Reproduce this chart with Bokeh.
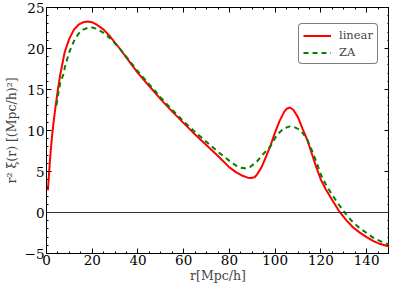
from bokeh.plotting import figure
from bokeh.models import Span, Legend, LegendItem, LinearAxis, Range1d, FixedTicker
from bokeh.embed import file_html
from bokeh.resources import INLINE

# ---- data ----
r_linear = [0.6, 1, 1.5, 2, 2.5, 3, 4, 5, 6, 8, 10, 12, 14, 16, 18, 20, 22, 25, 28,
            32, 36, 40, 45, 50, 55, 60, 65, 70, 75, 80, 83, 86, 88, 89.3, 91, 92, 94,
            96, 98, 100, 102, 104, 105, 106.5, 108, 110, 112, 114, 116, 118, 120, 122,
            125, 128, 131, 134, 137, 140, 143, 146, 150]
xi_linear = [2.7, 4.3, 6.3, 8.0, 9.5, 10.8, 13.0, 15.0, 16.8, 19.6, 21.2, 22.3, 22.9,
             23.2, 23.3, 23.2, 22.9, 22.3, 21.4, 20.0, 18.5, 17.0, 15.4, 13.8, 12.3,
             10.9, 9.5, 8.2, 6.9, 5.5, 4.9, 4.45, 4.25, 4.2, 4.3, 4.6, 5.5, 6.8, 8.2,
             9.8, 11.2, 12.3, 12.65, 12.8, 12.5, 11.6, 10.2, 8.9, 7.2, 5.5, 4.0, 2.9,
             1.5, 0.15, -0.9, -1.8, -2.45, -3.0, -3.5, -3.85, -4.15]

r_za = [4.4, 5, 6, 7.6, 8, 10, 12, 14, 16, 18.3, 20, 22, 25, 28, 32, 36, 40, 45, 50,
        55, 60, 65, 70, 75, 80, 83, 85, 87, 89, 92, 94, 96, 98, 100, 102, 104, 106.5,
        108, 110, 112, 114, 116, 118, 120, 122, 125, 128, 131, 134, 137, 140, 143, 146,
        150]
xi_za = [13.1, 14.3, 15.8, 17.0, 17.7, 19.6, 20.9, 21.8, 22.3, 22.55, 22.55, 22.4,
         21.9, 21.2, 20.0, 18.6, 17.2, 15.6, 14.0, 12.5, 11.1, 9.8, 8.6, 7.4, 6.3, 5.7,
         5.45, 5.4, 5.55, 6.2, 6.9, 7.5, 8.1, 9.1, 9.8, 10.3, 10.5, 10.45, 10.2, 9.7,
         8.9, 7.6, 6.2, 4.6, 3.5, 2.1, 0.9, -0.2, -1.2, -1.9, -2.5, -3.1, -3.5, -3.95]

x_ticks = [0, 20, 40, 60, 80, 100, 120, 140]
y_ticks = [-5, 0, 5, 10, 15, 20, 25]

FONT = "DejaVu Serif"

p = figure(width=389, height=285, output_backend="svg", toolbar_location=None,
           x_range=Range1d(0, 150), y_range=Range1d(-5, 25),
           min_border_left=39, min_border_right=0, min_border_top=7, min_border_bottom=0)
p.background_fill_color = "white"
p.border_fill_color = "white"
p.outline_line_color = "black"
p.outline_line_width = 1
p.xgrid.visible = False
p.ygrid.visible = False

p.add_layout(Span(location=0, dimension="width", line_color="#333333", line_width=1))

l1 = p.line(r_linear, xi_linear, line_color="red", line_width=2)
l2 = p.line(r_za, xi_za, line_color="green", line_width=2, line_dash="5 4")

legend = Legend(items=[LegendItem(label="linear", renderers=[l1]),
                       LegendItem(label="ZA", renderers=[l2])],
                location=(252, 189))
legend.label_text_font = FONT
legend.label_text_font_size = "11.5px"
legend.glyph_width = 28
legend.glyph_height = 13
legend.label_height = 13
legend.label_standoff = 8
legend.spacing = 3
legend.padding = 4
legend.margin = 0
legend.border_line_color = "black"
legend.border_line_width = 1
legend.background_fill_alpha = 1.0
try:
    legend.border_radius = 4
except Exception:
    pass
p.add_layout(legend)

minor_x = [v for v in range(0, 151, 5) if v % 20 != 0]
minor_y = [v for v in range(-5, 26) if v % 5 != 0]

def style_axis(ax, ticks, minors):
    ax.ticker = FixedTicker(ticks=ticks, minor_ticks=minors)
    ax.major_tick_in = 5
    ax.major_tick_out = 0
    ax.minor_tick_in = 2
    ax.minor_tick_out = 0
    ax.axis_line_color = "black"
    ax.major_label_text_font = FONT
    ax.major_label_text_font_size = "13.5px"
    ax.major_label_text_color = "black"
    ax.axis_label_text_font = FONT
    ax.axis_label_text_font_size = "12.5px"
    ax.axis_label_text_font_style = "normal"

xa = p.xaxis[0]
style_axis(xa, x_ticks, minor_x)
xa.axis_label = "r[Mpc/h]"
xa.axis_label_standoff = 0
xa.major_label_standoff = 1

ya = p.yaxis[0]
style_axis(ya, y_ticks, minor_y)
ya.axis_label = "r² ξ(r) [(Mpc/h)²]"
ya.axis_label_standoff = 3
ya.major_label_standoff = 2

for loc, ticks, minors in (("above", x_ticks, minor_x), ("right", y_ticks, minor_y)):
    ax = LinearAxis()
    ax.ticker = FixedTicker(ticks=ticks, minor_ticks=minors)
    ax.major_tick_in = 5
    ax.major_tick_out = 0
    ax.minor_tick_in = 2
    ax.minor_tick_out = 0
    ax.major_label_overrides = {t: "" for t in ticks}
    ax.major_label_standoff = 0
    ax.major_label_text_font_size = "1px"
    p.add_layout(ax, loc)

open("out.html", "w").write(file_html(p, INLINE))
